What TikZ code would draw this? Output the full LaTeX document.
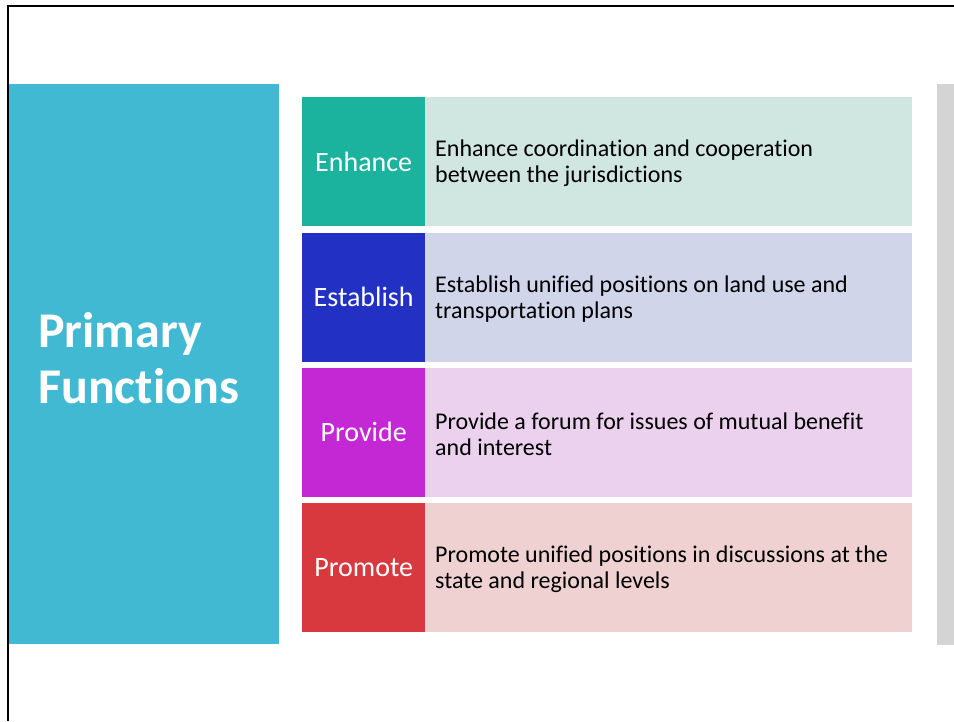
\documentclass[tikz,border=0pt]{standalone}
\usepackage{fontspec}
\setmainfont{Carlito}[Ligatures=NoCommon]
\definecolor{cyanbg}{RGB}{65,185,211}
\definecolor{cA}{RGB}{27,179,157}
\definecolor{cB}{RGB}{34,49,196}
\definecolor{cC}{RGB}{196,40,212}
\definecolor{cD}{RGB}{215,57,62}
\definecolor{lA}{RGB}{208,231,225}
\definecolor{lB}{RGB}{208,213,234}
\definecolor{lC}{RGB}{235,209,238}
\definecolor{lD}{RGB}{240,209,210}
\definecolor{greybar}{RGB}{212,212,212}
\tikzset{
  labelbox/.style={minimum width=123pt, minimum height=129pt, inner sep=0pt, text=white, font=\fontsize{28}{32}\selectfont},
  descbox/.style={minimum width=487pt, minimum height=129pt, inner sep=0pt},
  desctext/.style={anchor=west, align=left, inner sep=0pt, font=\fontsize{24}{26}\selectfont, text=black},
}
\begin{document}
\begin{tikzpicture}[x=1pt,y=-1pt]
\useasboundingbox (0,0) rectangle (954,721);
\fill[white] (0,0) rectangle (954,721);
% frame
\draw[black, line width=2.2pt] (8,721) -- (8,6) -- (954,6);
% left title panel
\node[fill=cyanbg, minimum width=270pt, minimum height=560pt, inner sep=0pt, anchor=north west] (panel) at (9,84) {};
\node[anchor=base west, align=left, inner sep=0pt, text=white, font=\fontsize{50}{56}\selectfont\bfseries] (title) at (38,403) {Primary\\Functions};
% grey bar
\node[fill=greybar, minimum width=17pt, minimum height=561pt, inner sep=0pt, anchor=north west] (bar) at (937,84) {};
% rows
\node[labelbox, fill=cA, anchor=north west] (lab1) at (302,97) {Enhance};
\node[descbox, fill=lA, anchor=north west] (box1) at (425,97) {};
\node[desctext] (t1) at ([xshift=10pt,yshift=-2pt]box1.west) {Enhance coordination and cooperation\\between the jurisdictions};

\node[labelbox, fill=cB, anchor=north west] (lab2) at (302,232.3) {Establish};
\node[descbox, fill=lB, anchor=north west] (box2) at (425,232.3) {};
\node[desctext] (t2) at ([xshift=10pt,yshift=-2pt]box2.west) {Establish unified positions on land use and\\transportation plans};

\node[labelbox, fill=cC, anchor=north west] (lab3) at (302,367.6) {Provide};
\node[descbox, fill=lC, anchor=north west] (box3) at (425,367.6) {};
\node[desctext] (t3) at ([xshift=10pt,yshift=-2pt]box3.west) {Provide a forum for issues of mutual benefit\\and interest};

\node[labelbox, fill=cD, anchor=north west] (lab4) at (302,503) {Promote};
\node[descbox, fill=lD, anchor=north west] (box4) at (425,503) {};
\node[desctext] (t4) at ([xshift=10pt,yshift=-2pt]box4.west) {Promote unified positions in discussions at the\\state and regional levels};
\end{tikzpicture}
\end{document}
